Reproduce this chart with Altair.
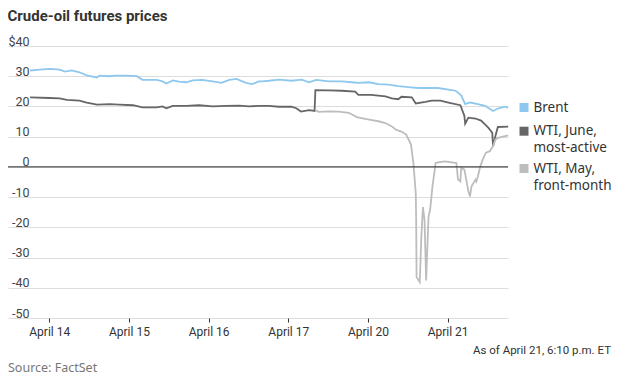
import json
import altair as alt
import pandas as pd

TITLE = "Crude-oil futures prices"
NOTE = "As of April 21, 6:10 p.m. ET"
SOURCE = "Source: FactSet"

SERIES = ["Brent", "WTI, June, most-active", "WTI, May, front-month"]
LEGEND_LINES = [["Brent"], ["WTI, June,", "most-active"], ["WTI, May,", "front-month"]]
COLORS = ["#8ec8ee", "#666666", "#bdbdbd"]

# x = trading days after the start of April 14 (weekend removed)
TICK_DAYS = [0, 1, 2, 3, 4, 5]
TICK_LABELS = ["April 14", "April 15", "April 16", "April 17", "April 20", "April 21"]
Y_TICKS = [-50, -40, -30, -20, -10, 0, 10, 20, 30, 40]
X_DOMAIN = [-0.5175, 5.7575]
Y_DOMAIN = [-50, 40]

BRENT_T = [-0.24, -0.12, 0.01, 0.13, 0.20, 0.28, 0.38, 0.48, 0.60, 0.63,
           0.76, 0.82, 0.97, 1.10, 1.17, 1.35, 1.42, 1.47, 1.55, 1.63,
           1.72, 1.80, 1.92, 2.05, 2.16, 2.26, 2.35, 2.47, 2.55, 2.63,
           2.67, 2.76, 2.88, 3.04, 3.17, 3.26, 3.35, 3.51, 3.67, 3.80,
           3.88, 4.01, 4.13, 4.26, 4.38, 4.54, 4.63, 4.88, 5.05, 5.10,
           5.17, 5.22, 5.28, 5.38, 5.47, 5.57, 5.63, 5.72, 5.76]
BRENT_P = [31.9, 32.2, 32.4, 32.2, 31.5, 31.9, 31.3, 30.2, 29.6, 30.2,
           30.0, 30.2, 30.2, 30.0, 28.8, 28.8, 28.3, 27.6, 28.6, 28.2,
           28.0, 28.6, 28.8, 28.3, 27.8, 28.8, 29.1, 27.8, 27.4, 28.3,
           28.3, 28.5, 28.9, 28.5, 28.9, 28.0, 28.8, 28.3, 28.3, 28.0,
           27.8, 28.0, 27.4, 27.2, 26.7, 26.3, 26.1, 26.1, 25.4, 25.2,
           23.7, 20.8, 21.3, 20.8, 20.2, 18.5, 19.3, 19.9, 19.6]

JUNE_T = [-0.24, 0.01, 0.13, 0.22, 0.38, 0.47, 0.60, 0.76, 0.88, 1.05,
          1.17, 1.35, 1.42, 1.47, 1.55, 1.72, 1.88, 2.05, 2.22, 2.38,
          2.51, 2.63, 2.76, 2.88, 3.04, 3.10, 3.16, 3.26, 3.33, 3.34,
          3.51, 3.67, 3.84, 3.88, 4.04, 4.22, 4.30, 4.38, 4.42, 4.55,
          4.60, 4.72, 4.80, 4.91, 5.01, 5.16, 5.21, 5.22, 5.26, 5.35,
          5.42, 5.51, 5.56, 5.57, 5.60, 5.63, 5.76]
JUNE_P = [23.0, 22.8, 22.7, 22.2, 21.9, 21.3, 20.6, 20.8, 20.6, 20.4,
          19.7, 19.7, 20.0, 19.4, 20.2, 20.2, 20.4, 20.0, 20.2, 20.3,
          20.0, 20.2, 20.2, 19.9, 19.9, 19.4, 18.3, 18.8, 18.5, 25.4,
          25.3, 25.2, 24.9, 23.8, 23.8, 23.3, 22.7, 22.4, 23.2, 23.0,
          21.0, 21.5, 21.9, 21.9, 21.3, 20.4, 16.9, 14.3, 16.3, 16.0,
          15.3, 13.0, 11.3, 6.8, 10.2, 13.2, 13.3]

MAY_T = [3.34, 3.38, 3.51, 3.63, 3.76, 3.86, 3.95, 4.05, 4.13, 4.22,
         4.30, 4.35, 4.42, 4.48, 4.54, 4.57, 4.60, 4.605, 4.61, 4.63,
         4.65, 4.67, 4.69, 4.71, 4.73, 4.76, 4.78, 4.81, 4.85, 4.88,
         4.97, 5.05, 5.11, 5.13, 5.16, 5.17, 5.21, 5.23, 5.26, 5.28,
         5.30, 5.35, 5.36, 5.38, 5.41, 5.44, 5.48, 5.53, 5.57, 5.60,
         5.63, 5.76]
MAY_P = [18.8, 18.2, 18.4, 18.3, 17.9, 16.5, 16.0, 15.5, 15.1, 14.5,
         13.4, 12.3, 11.7, 10.7, 7.4, 1.3, -8.7, -17.6, -36.5, -37.3,
         -38.1, -23.1, -13.3, -17.6, -37.6, -16.5, -14.2, -6.4, 1.3, 1.5,
         1.8, 1.5, 1.3, -4.2, -4.8, -0.3, -0.9, -3.7, -8.1, -9.8,
         -6.4, -4.2, -4.8, -3.1, 0.2, 2.4, 4.7, 5.2, 6.9, 9.1,
         9.6, 10.4]

rows = []
for name, ts, ps in zip(SERIES, [BRENT_T, JUNE_T, MAY_T], [BRENT_P, JUNE_P, MAY_P]):
    for i, (t, p) in enumerate(zip(ts, ps)):
        rows.append({"series": name, "t": t, "price": p, "i": i})
df = pd.DataFrame(rows)

AXIS_FONT = "Roboto"
LEGEND_FONT = "Noto Sans"

x_label_expr = f"{json.dumps(TICK_LABELS)}[datum.value]"

x_scale = alt.Scale(domain=X_DOMAIN, nice=False, zero=False)
y_scale = alt.Scale(domain=Y_DOMAIN, nice=False, zero=False)
x_axis = alt.Axis(values=TICK_DAYS, labelExpr=x_label_expr, title=None,
                  grid=False, domain=False, ticks=True, tickSize=4,
                  tickColor="#333333", labelPadding=4, labelFont=AXIS_FONT,
                  labelFontSize=12, labelColor="#333333", labelFlush=False,
                  labelOverlap=False)
y_axis = alt.Axis(values=Y_TICKS, title=None, domain=False, ticks=False,
                  tickSize=0, labelAlign="right", labelPadding=-21,
                  labelBaseline="alphabetic", labelOffset=-1,
                  labelOverlap=False, labelBound=False, labelFlush=False,
                  labelExpr="datum.value == 40 ? '$40' : toString(datum.value)",
                  gridColor="#dddddd", labelFont=AXIS_FONT, labelFontSize=12.5,
                  labelColor="#444444")

lines = alt.Chart(df).mark_line(strokeWidth=1.8).encode(
    x=alt.X("t:Q", scale=x_scale, axis=x_axis),
    y=alt.Y("price:Q", scale=y_scale, axis=y_axis),
    color=alt.Color("series:N", scale=alt.Scale(domain=SERIES, range=COLORS), legend=None),
    order=alt.Order("i:Q"),
)

zero = alt.Chart(pd.DataFrame({"price": [0]})).mark_rule(color="#222222", strokeWidth=1).encode(
    y=alt.Y("price:Q", scale=y_scale, axis=y_axis)
)

note = alt.Chart(pd.DataFrame({"text": [NOTE]})).mark_text(
    align="right", baseline="middle", font=AXIS_FONT, fontSize=11.5, color="#333333"
).encode(x=alt.value(603), y=alt.value(304.7), text="text:N")

source = alt.Chart(pd.DataFrame({"text": [SOURCE]})).mark_text(
    align="left", baseline="middle", font=LEGEND_FONT, fontSize=12.5, color="#777777"
).encode(x=alt.value(0), y=alt.value(322.3), text="text:N")

# hand-built legend (swatch + wrapped label), positions in pixels
LEGEND_X_SWATCH = 516
LEGEND_X_TEXT = 525.5
LEGEND_Y = [61.5, 85.2, 122.5]
legend_layers = []
for name, lab, col, ly in zip(SERIES, LEGEND_LINES, COLORS, LEGEND_Y):
    legend_layers.append(
        alt.Chart(pd.DataFrame({"series": [name]})).mark_square(
            size=81, color=col, opacity=1, strokeWidth=0
        ).encode(x=alt.value(LEGEND_X_SWATCH), y=alt.value(ly))
    )
    legend_layers.append(
        alt.Chart(pd.DataFrame({"label": ["\n".join(lab)]})).mark_text(
            align="left", baseline="middle", lineBreak="\n", lineHeight=17.3,
            font=LEGEND_FONT, fontSize=13.5, color="#333333"
        ).encode(x=alt.value(LEGEND_X_TEXT), y=alt.value(ly), text="label:N")
    )

chart = alt.layer(lines, zero, note, source, *legend_layers).properties(
    width=500,
    height=272,
    title=alt.TitleParams(TITLE, anchor="start", font="Roboto", fontSize=15,
                          fontWeight="bold", color="#333333", offset=11),
    padding={"left": 0, "top": 38, "right": 104, "bottom": 58},
    autosize=alt.AutoSizeParams(type="none"),
).configure_view(stroke=None)

chart.save("out.html", embed_options={"renderer": "svg", "actions": False})
